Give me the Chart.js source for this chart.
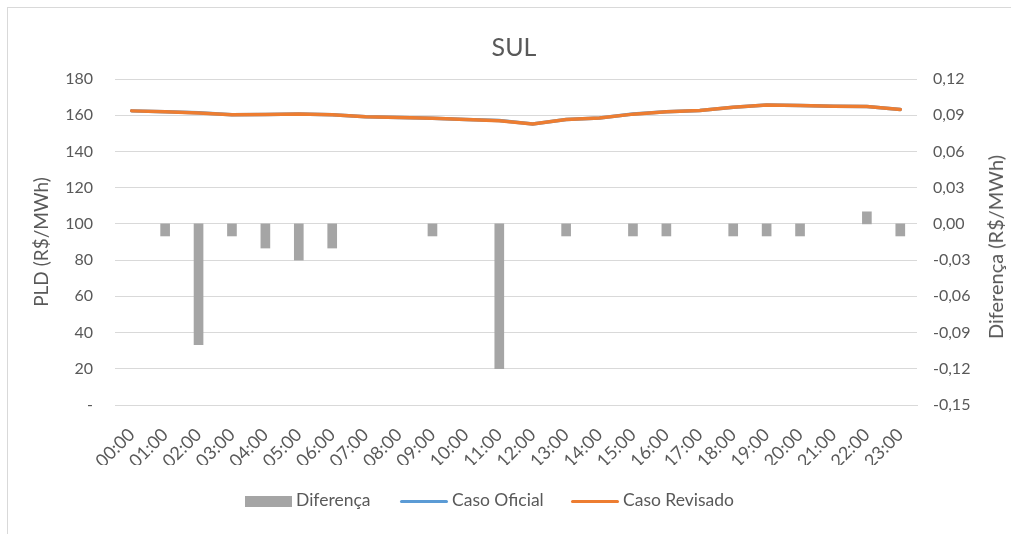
<!DOCTYPE html>
<html>
<head>
<meta charset="utf-8">
<script src="https://cdn.jsdelivr.net/npm/chart.js@4/dist/chart.umd.min.js"></script>
<style>
  html, body { margin: 0; padding: 0; background: #fff; }
  #wrap { position: relative; width: 1011px; height: 534px; overflow: hidden;
          font-family: Lato, sans-serif; color: #595959; }
  #frame { position: absolute; left: 7px; top: 7px; width: 1100px; height: 600px;
           border-left: 1px solid #d9d9d9; border-top: 1px solid #d9d9d9; }
  canvas { position: absolute; left: 0; top: 0; }
  #titulo { position: absolute; left: 514px; top: 46px; transform: translate(-50%, -50%);
            font-size: 25px; white-space: nowrap; }
  #eixoDir { position: absolute; left: 995px; top: 247px; transform: translate(-50%, -50%) rotate(-90deg);
             font-size: 20px; white-space: nowrap; }
  #legend { position: absolute; left: 0; top: 489px; width: 1011px; height: 22px; font-size: 17.5px; }
  .item { position: absolute; top: 0; line-height: 22px; white-space: nowrap; }
  .sw { display: inline-block; vertical-align: middle; margin-right: 4px; }
</style>
</head>
<body>
<div id="wrap">
  <div id="frame"></div>
  <canvas id="chart" width="1011" height="534"></canvas>
  <div id="titulo">SUL</div>
  <div id="eixoDir">Diferença (R$/MWh)</div>
  <div id="legend">
    <div class="item" style="left:245px"><span class="sw" style="width:47px;height:11px;background:#a5a5a5"></span>Diferença</div>
    <div class="item" style="left:400px"><span class="sw" style="width:48px;height:3px;border-radius:2px;background:#5b9bd5"></span>Caso Oficial</div>
    <div class="item" style="left:571px"><span class="sw" style="width:48px;height:3px;border-radius:2px;background:#ed7d31"></span>Caso Revisado</div>
  </div>
</div>
<script>
const horas = ["00:00", "01:00", "02:00", "03:00", "04:00", "05:00", "06:00", "07:00",
  "08:00", "09:00", "10:00", "11:00", "12:00", "13:00", "14:00", "15:00",
  "16:00", "17:00", "18:00", "19:00", "20:00", "21:00", "22:00", "23:00"];

const diferenca = [0, -0.01, -0.10, -0.01, -0.02, -0.03, -0.02, 0,
  0, -0.01, 0, -0.12, 0, -0.01, 0, -0.01,
  -0.01, 0, -0.01, -0.01, -0.01, 0, 0.01, -0.01];

const casoOficial = [162.40, 161.91, 161.30, 160.21, 160.42, 160.73, 160.22, 159.10,
  158.70, 158.31, 157.60, 157.02, 155.20, 157.61, 158.50, 160.61,
  161.91, 162.60, 164.41, 165.71, 165.41, 165.00, 164.79, 163.21];

const casoRevisado = [162.40, 161.90, 161.20, 160.20, 160.40, 160.70, 160.20, 159.10,
  158.70, 158.30, 157.60, 156.90, 155.20, 157.60, 158.50, 160.60,
  161.90, 162.60, 164.40, 165.70, 165.40, 165.00, 164.80, 163.20];

const ticksPLD = { min: 0, max: 180, step: 20 };
const ticksDif = { min: -0.15, max: 0.12, step: 0.03 };

const cinza = "#595959";
const fonte = "Lato, sans-serif";

new Chart(document.getElementById("chart"), {
  type: "bar",
  data: {
    labels: horas,
    datasets: [
      {
        label: "Caso Revisado",
        type: "line",
        data: casoRevisado,
        yAxisID: "y",
        borderColor: "#ed7d31",
        borderWidth: 3.5,
        pointRadius: 0,
        tension: 0,
        borderCapStyle: "round",
        order: 0
      },
      {
        label: "Caso Oficial",
        type: "line",
        data: casoOficial,
        yAxisID: "y",
        borderColor: "#5b9bd5",
        borderWidth: 3.5,
        pointRadius: 0,
        tension: 0,
        borderCapStyle: "round",
        order: 1
      },
      {
        label: "Diferença",
        data: diferenca,
        yAxisID: "y2",
        // zero-height bars would otherwise leave a hairline
        backgroundColor: function (ctx) {
          return ctx.raw === 0 ? "rgba(0,0,0,0)" : "#a5a5a5";
        },
        barThickness: 9,
        order: 2
      }
    ]
  },
  options: {
    responsive: false,
    animation: false,
    layout: { padding: { left: 0, right: 0, top: 79, bottom: 69 } },
    plugins: {
      legend: { display: false },
      tooltip: { enabled: false },
      title: { display: false }
    },
    scales: {
      x: {
        grid: { display: false },
        border: { display: true, color: "#d9d9d9" },
        ticks: {
          color: cinza,
          font: { family: fonte, size: 18 },
          minRotation: 45,
          maxRotation: 45,
          autoSkip: false,
          padding: 11
        },
        afterFit: function (scale) { scale.height = 60; }
      },
      y: {
        position: "left",
        min: ticksPLD.min,
        max: ticksPLD.max,
        grid: { color: "#d9d9d9", lineWidth: 1, drawTicks: false },
        border: { display: false },
        ticks: {
          stepSize: ticksPLD.step,
          color: cinza,
          font: { family: fonte, size: 16 },
          padding: 22,
          callback: function (v) { return v === 0 ? "-" : v; }
        },
        title: {
          display: true,
          text: "PLD (R$/MWh)",
          color: cinza,
          font: { family: fonte, size: 19, lineHeight: 1.2 },
          padding: { top: 30, bottom: 0 }
        },
        afterFit: function (scale) { scale.width = 115; }
      },
      y2: {
        position: "right",
        min: ticksDif.min,
        max: ticksDif.max,
        grid: { display: false, drawTicks: false },
        border: { display: false },
        ticks: {
          stepSize: ticksDif.step,
          color: cinza,
          font: { family: fonte, size: 16 },
          padding: 16,
          callback: function (v) { return v.toFixed(2).replace(".", ","); }
        },
        afterFit: function (scale) { scale.width = 94; }
      }
    }
  }
});
</script>
</body>
</html>
